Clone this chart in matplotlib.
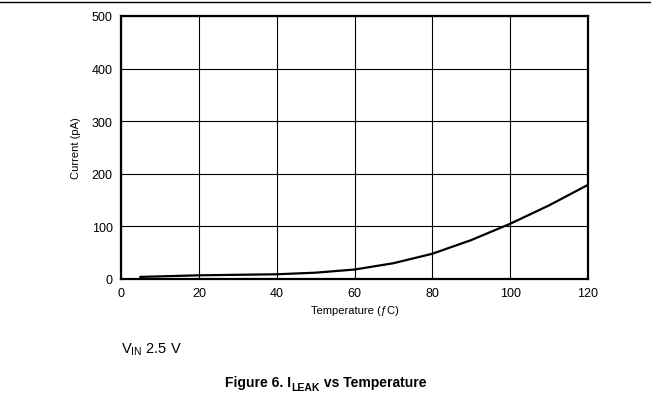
import matplotlib
matplotlib.use("Agg")
import matplotlib.pyplot as plt
from matplotlib.lines import Line2D

plt.rcParams["font.family"] = ["Liberation Sans", "DejaVu Sans"]
plt.rcParams["mathtext.fontset"] = "custom"
plt.rcParams["mathtext.rm"] = "Liberation Sans"

temp_c = [5, 10, 20, 30, 40, 50, 60, 70, 80, 90, 100, 110, 120]
leak_pa = [4, 5, 7, 8, 9, 12, 18, 30, 48, 74, 105, 140, 179]

fig = plt.figure(figsize=(6.51, 4.14), dpi=100)
ax = fig.add_axes([121 / 651, 1 - 280 / 414, 467 / 651, 263 / 414])

ax.plot(temp_c, leak_pa, color="black", linewidth=1.6)
ax.set_xlim(0, 120)
ax.set_ylim(0, 500)
ax.set_xticks(range(0, 121, 20))
ax.set_yticks(range(0, 501, 100))
ax.grid(True, color="black", linewidth=0.8)
ax.tick_params(length=0, labelsize=9, pad=6)
for s in ax.spines.values():
    s.set_linewidth(1.6)
ax.set_xlabel("Temperature (ƒC)", fontsize=8, labelpad=4)
ax.set_ylabel("Current (pA)", fontsize=8, labelpad=8)

fig.add_artist(Line2D([0, 1], [1 - 3 / 414, 1 - 3 / 414], color="black", linewidth=1.0))
fig.text(121 / 651, 1 - 350 / 414, r"V$_\mathregular{IN}$ 2.5 V", fontsize=10.5, va="center")

# caption built from pieces so the subscript stays bold
t1 = fig.text(0, 1 - 387 / 414, "Figure 6. I", fontsize=10, fontweight="bold",
              ha="left", va="baseline")
t2 = ax.annotate("LEAK", xy=(1, 0), xycoords=t1, xytext=(0.3, -2.3),
                 textcoords="offset points", fontsize=7.5, fontweight="bold",
                 ha="left", va="bottom", annotation_clip=False)
t3 = ax.annotate(" vs Temperature", xy=(1, 0), xycoords=t2, xytext=(0, 2.3),
                 textcoords="offset points", fontsize=10, fontweight="bold",
                 ha="left", va="bottom", annotation_clip=False)
r = fig.canvas.get_renderer()
w = t3.get_window_extent(r).x1 - t1.get_window_extent(r).x0
t1.set_x(0.5 - w / 2 / fig.bbox.width)

fig.savefig("out.png", dpi=100)
